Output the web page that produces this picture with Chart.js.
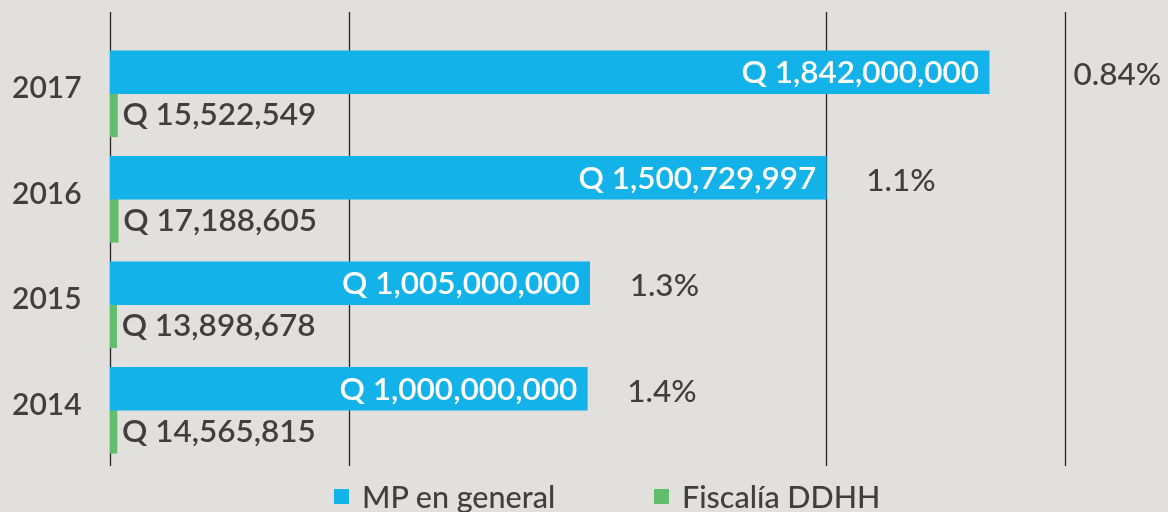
<!DOCTYPE html>
<html>
<head>
<meta charset="utf-8">
<script src="https://cdn.jsdelivr.net/npm/chart.js@4.4.1/dist/chart.umd.min.js"></script>
<style>
  html, body { margin: 0; padding: 0; background: #e2e0dc; }
  #wrap { position: relative; width: 1168px; height: 512px; }
  #legend { position: absolute; left: 0; top: 481px; width: 1168px; height: 30px;
    font-family: Lato, sans-serif; font-size: 30.5px; font-weight: 500; color: #3f3f3f; }
  #legend .item { position: absolute; top: 0; display: flex; align-items: center; height: 30px; white-space: nowrap; }
  #legend .box { width: 15px; height: 15px; margin-right: 13px; }
</style>
</head>
<body>
<div id="wrap">
  <canvas id="myChart" width="1168" height="512"></canvas>
  <div id="legend"></div>
</div>
<script>
const years = ['2017', '2016', '2015', '2014'];
const mpGeneral = [1842000000, 1500729997, 1005000000, 1000000000];
const fiscaliaDDHH = [15522549, 17188605, 13898678, 14565815];
const shares = ['0.84%', '1.1%', '1.3%', '1.4%'];
const gridValues = [0, 500000000, 1500000000, 2000000000];
const seriesNames = ['MP en general', 'Fiscalía DDHH'];

const textColor = '#3f3f3f';
const fontFamily = 'Lato, sans-serif';

function money(v) {
    return 'Q ' + v.toLocaleString('en-US');
}

// vertical lines, a bit taller than the plot area
const gridPlugin = {
    id: 'gridLines',
    beforeDatasetsDraw(chart) {
        const ctx = chart.ctx;
        const area = chart.chartArea;
        const x = chart.scales.x;
        ctx.save();
        ctx.strokeStyle = '#262626';
        ctx.lineWidth = 1.3;
        gridValues.forEach((v) => {
            const px = Math.round(x.getPixelForValue(v)) + 0.5;
            ctx.beginPath();
            ctx.moveTo(px, area.top - 29);
            ctx.lineTo(px, area.bottom + 3);
            ctx.stroke();
        });
        ctx.restore();
    }
};

const labelPlugin = {
    id: 'barLabels',
    afterDatasetsDraw(chart) {
        const ctx = chart.ctx;
        const mp = chart.getDatasetMeta(0).data;
        const fd = chart.getDatasetMeta(1).data;
        const lastGrid = chart.scales.x.getPixelForValue(gridValues[gridValues.length - 1]);
        ctx.save();
        ctx.textBaseline = 'middle';

        ctx.font = '600 31.5px ' + fontFamily;
        ctx.fillStyle = '#ffffff';
        ctx.textAlign = 'right';
        mp.forEach((bar, i) => {
            ctx.fillText(money(mpGeneral[i]), bar.x - 10, bar.y + 1);
        });

        ctx.fillStyle = textColor;
        ctx.textAlign = 'left';
        fd.forEach((bar, i) => {
            ctx.fillText(money(fiscaliaDDHH[i]), bar.x + 5, bar.y);
        });

        ctx.font = '500 31.5px ' + fontFamily;
        mp.forEach((bar, i) => {
            let px = bar.x + 40;
            const w = ctx.measureText(shares[i]).width;
            if (px < lastGrid && px + w > lastGrid) {
                px = lastGrid + 9;
            }
            ctx.fillText(shares[i], px, bar.y + 3);
        });
        ctx.restore();
    }
};

const ctx = document.getElementById('myChart').getContext('2d');

const myChart = new Chart(ctx, {
    type: 'bar',
    data: {
        labels: years,
        datasets: [{
            label: seriesNames[0],
            data: mpGeneral,
            backgroundColor: '#13b2e8',
            barThickness: 43,
        }, {
            label: seriesNames[1],
            data: fiscaliaDDHH,
            backgroundColor: '#62bd6c',
            barThickness: 43,
        }]
    },
    options: {
        indexAxis: 'y',
        responsive: false,
        animation: false,
        layout: {
            padding: { top: 41, bottom: 49, left: 12, right: 8 }
        },
        plugins: {
            legend: { display: false },
            tooltip: { enabled: false },
        },
        scales: {
            x: {
                display: false,
                min: 0,
                max: 2200000000,
            },
            y: {
                grid: { display: false },
                border: { display: false },
                afterFit: (scale) => { scale.width = 98; },
                ticks: {
                    crossAlign: 'far',
                    labelOffset: -5,
                    color: textColor,
                    font: { family: fontFamily, size: 30, weight: '600' },
                },
            },
        },
    },
    plugins: [gridPlugin, labelPlugin],
});

// legend below the chart
const legend = document.getElementById('legend');
const legendLeft = [334, 654];
myChart.data.datasets.forEach((ds, i) => {
    const item = document.createElement('div');
    item.className = 'item';
    item.style.left = legendLeft[i] + 'px';
    item.innerHTML = '<span class="box" style="background:' + ds.backgroundColor + '"></span>' + ds.label;
    legend.appendChild(item);
});
</script>
</body>
</html>
